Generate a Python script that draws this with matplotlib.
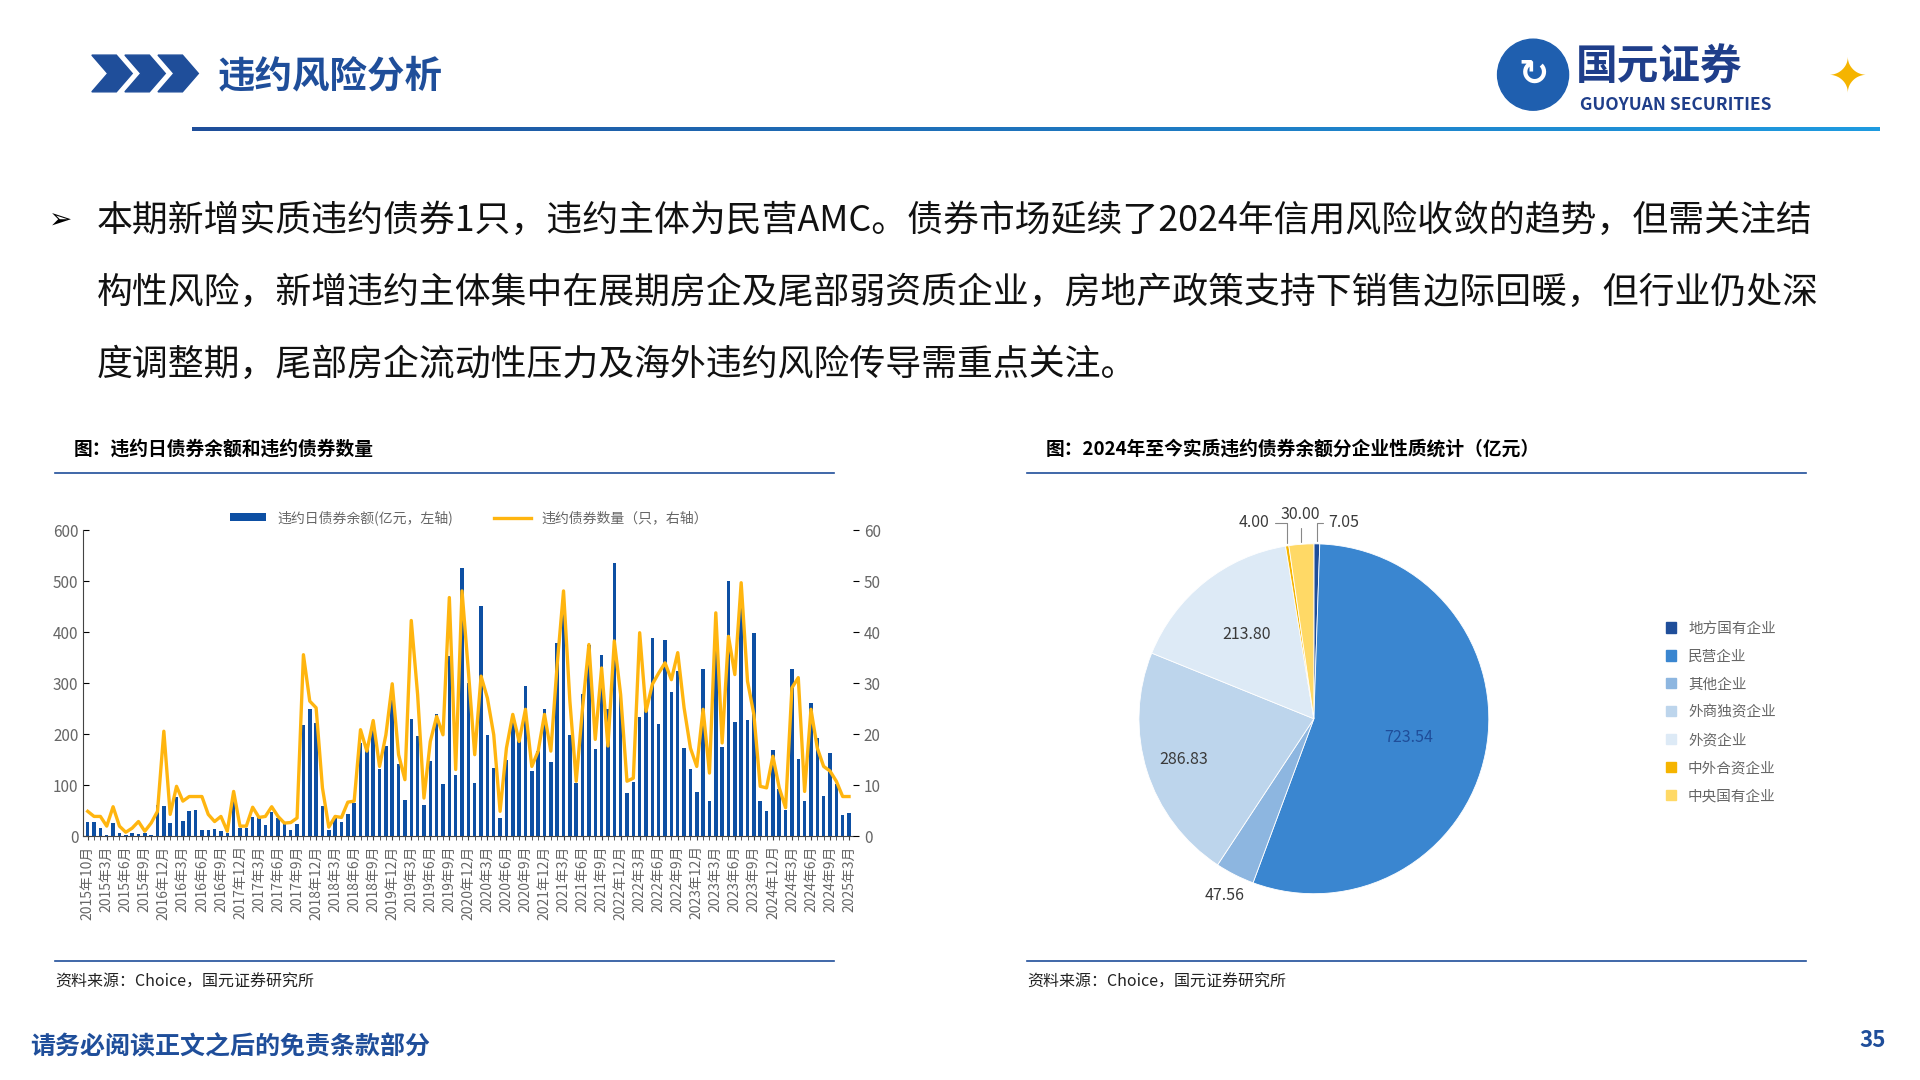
import matplotlib.pyplot as plt
import matplotlib.patches as mpatches
from matplotlib.lines import Line2D
import numpy as np

plt.rcParams['font.family'] = ['Noto Sans CJK SC', 'DejaVu Sans']

# ---- data: monthly defaults, 2015-10 .. 2025-10 (121 months) ----
balance = [28, 28, 16, 3, 27, 7, 3, 7, 5, 7, 3, 62, 59, 26, 77, 31, 49, 52, 13, 13,
           15, 11, 7, 77, 16, 16, 38, 38, 23, 48, 36,
           24, 13, 24, 219, 249, 222, 60, 12, 36, 29, 44, 65, 182, 180, 219, 131, 177, 268,
           142, 72, 229, 196, 61, 147, 240, 103, 353, 120, 525,
           301, 105, 451, 198, 133, 35, 149, 232, 193, 294, 129, 167, 249, 145, 379, 481,
           198, 105, 279, 375, 171, 355, 250, 536, 277, 84, 107, 233, 262, 388,
           220, 384, 283, 324, 173, 131, 87, 328, 69, 386, 175, 500, 224, 447, 228, 399,
           70, 50, 169, 92, 52, 328, 152, 70, 262, 193, 80, 164, 103, 41, 45]
count = [4.9, 3.9, 3.9, 2.0, 5.8, 2.0, 0.8, 1.6, 2.9, 1.0, 2.6, 4.9, 20.6, 4.3, 9.8, 6.9,
         7.8, 7.8, 7.8, 4.3, 2.9, 3.9, 1.0, 8.8, 2.0, 2.0, 5.7, 3.7, 3.9, 5.8, 3.9,
         2.6, 2.7, 3.6, 35.6, 26.5, 25.2, 9.5, 1.8, 3.9, 3.7, 6.7, 6.9, 20.9, 16.7, 22.7,
         13.7, 19.9, 29.9, 16.0, 11.1, 42.3, 27.8, 7.5, 18.6, 23.5, 19.9, 46.8, 13.1, 48.1,
         32.4, 16.0, 31.4, 27.1, 19.9, 4.9, 17.3, 23.9, 18.6, 24.9, 13.7, 16.7, 23.9, 16.7,
         33.7, 48.1, 26.5, 10.8, 25.2, 37.6, 19.0, 33.0, 17.7, 38.3, 27.8, 10.8, 11.4, 39.9,
         24.5, 29.8,
         32.0, 34.0, 30.7, 36.0, 25.2, 17.3, 13.7, 24.9, 12.4, 43.8, 18.3, 39.2, 31.7, 49.7,
         30.4, 23.9, 9.8, 9.5, 15.7, 9.5, 5.6, 29.1, 31.1, 8.8, 24.9, 17.3, 13.7, 12.8,
         10.8, 7.8, 7.8]
tick_labels = ['2015年10月', '2015年3月', '2015年6月', '2015年9月',
               '2016年12月', '2016年3月', '2016年6月', '2016年9月',
               '2017年12月', '2017年3月', '2017年6月', '2017年9月',
               '2018年12月', '2018年3月', '2018年6月', '2018年9月',
               '2019年12月', '2019年3月', '2019年6月', '2019年9月',
               '2020年12月', '2020年3月', '2020年6月', '2020年9月',
               '2021年12月', '2021年3月', '2021年6月', '2021年9月',
               '2022年12月', '2022年3月', '2022年6月', '2022年9月',
               '2023年12月', '2023年3月', '2023年6月', '2023年9月',
               '2024年12月', '2024年3月', '2024年6月', '2024年9月',
               '2025年3月']

# ---- pie data ----
pie_labels = ['地方国有企业', '民营企业', '其他企业', '外商独资企业', '外资企业', '中外合资企业', '中央国有企业']
pie_values = [7.05, 723.54, 47.56, 286.83, 213.80, 4.00, 30.00]
pie_colors = ['#1F4E9A', '#3A86D0', '#8DB6E0', '#BDD5EC', '#DDEAF6', '#F5B400', '#FFD966']

BLUE = '#1F4E9A'
fig = plt.figure(figsize=(19.2, 10.8), dpi=100)
W, H = 1568, 882  # layout measured on the preview


def fx(x):
    return x / W


def fy(y):
    return 1 - y / H


# ---- header ----
for i in range(3):
    fig.patches.append(mpatches.Polygon(
        [[fx(75 + i * 27), fy(45)], [fx(95 + i * 27), fy(45)], [fx(108 + i * 27), fy(60)],
         [fx(95 + i * 27), fy(75)], [fx(75 + i * 27), fy(75)], [fx(88 + i * 27), fy(60)]],
        closed=True, transform=fig.transFigure, color=BLUE))
fig.text(fx(178), fy(62), '违约风险分析', fontsize=27, color=BLUE, weight='bold', va='center')
grad = fig.add_axes([fx(157), fy(107), fx(1535 - 157), 4.5 / 1080])
grad.imshow(np.linspace(0, 1, 256).reshape(1, -1), aspect='auto',
            cmap=plt.matplotlib.colors.LinearSegmentedColormap.from_list('g', [BLUE, '#1E9BE0']))
grad.axis('off')
fig.patches.append(mpatches.Ellipse((fx(1252), fy(61)), fx(58), 58 / H, transform=fig.transFigure,
                                    color='#1F5FAF'))
fig.text(fx(1252), fy(61), '↻', fontsize=26, color='white', ha='center', va='center', weight='bold')
fig.text(fx(1287), fy(55), '国元证券', fontsize=30, color='#1F3E8A', weight='bold', va='center')
fig.text(fx(1290), fy(86), 'GUOYUAN SECURITIES', fontsize=12.5, color='#1F3E8A', weight='bold',
         va='center')
fig.text(fx(1508), fy(65), '✦', fontsize=34, color='#F5B400', ha='center', va='center',
         family=['DejaVu Sans'])

# ---- bullet text ----
lines = ['本期新增实质违约债券1只，违约主体为民营AMC。债券市场延续了2024年信用风险收敛的趋势，但需关注结',
         '构性风险，新增违约主体集中在展期房企及尾部弱资质企业，房地产政策支持下销售边际回暖，但行业仍处深',
         '度调整期，尾部房企流动性压力及海外违约风险传导需重点关注。']
fig.text(fx(40), fy(180), '➢', fontsize=20, va='center', family=['DejaVu Sans'])
for i, t in enumerate(lines):
    fig.text(fx(79), fy(180 + i * 59), t, fontsize=25.8, va='center', color='#111111')

# ---- section titles / rules ----
for x0, x1, title in [(45, 681, '图：违约日债券余额和违约债券数量'),
                      (839, 1475, '图：2024年至今实质违约债券余额分企业性质统计（亿元）')]:
    fig.text(fx(x0 + 15), fy(367), title, fontsize=13.5, weight='bold', va='center')
    fig.add_artist(Line2D([fx(x0), fx(x1)], [fy(386), fy(386)], color=BLUE, lw=1.2))
    fig.add_artist(Line2D([fx(x0), fx(x1)], [fy(785), fy(785)], color=BLUE, lw=1.2))
    fig.text(fx(x0), fy(802), '资料来源：Choice，国元证券研究所', fontsize=11.5, va='center',
             color='#222222')

fig.text(fx(25), fy(855), '请务必阅读正文之后的免责条款部分', fontsize=18, color=BLUE,
         weight='bold', va='center')
fig.text(fx(1540), fy(850), '35', fontsize=16, color=BLUE, weight='bold', va='center', ha='right')

# ---- combo chart ----
ax = fig.add_axes([fx(68), fy(683), fx(697 - 68), (683 - 433) / H])
x = np.arange(len(balance))
ax.bar(x, balance, width=0.55, color='#0D4FA3', label='违约日债券余额(亿元，左轴)')
ax.set_ylim(0, 600)
ax.set_xlim(-0.7, len(balance) - 0.3)
ax.set_yticks(range(0, 601, 100))
ax.set_xticks(range(0, len(balance), 3))
ax.set_xticklabels(tick_labels, rotation=90, fontsize=10, color='#666666')
ax.set_xticks(x, minor=True)
ax.tick_params(axis='x', which='both', length=3, color='#444444')
ax.tick_params(axis='y', labelsize=11, labelcolor='#666666', direction='in', length=4)
for s in ['top', 'right']:
    ax.spines[s].set_visible(False)
ax.spines['left'].set_color('#444444')
ax.spines['bottom'].set_color('#444444')
ax2 = ax.twinx()
ax2.plot(x, count, color='#FFB50F', lw=2.4, solid_joinstyle='round',
         label='违约债券数量（只，右轴）')
ax2.set_ylim(0, 60)
ax2.set_yticks(range(0, 61, 10))
ax2.tick_params(axis='y', labelsize=11, labelcolor='#666666', length=4)
for s in ['top', 'right', 'left', 'bottom']:
    ax2.spines[s].set_visible(False)
h1, l1 = ax.get_legend_handles_labels()
h2, l2 = ax2.get_legend_handles_labels()
fig.legend(h1 + h2, l1 + l2, loc='center', bbox_to_anchor=(fx(383), fy(423)), ncol=2,
           frameon=False, fontsize=10, labelcolor='#666666', handlelength=2.6,
           columnspacing=3, handleheight=0.5)

# ---- pie ----
pax = fig.add_axes([fx(1073 - 150), fy(587 + 150), fx(300), 300 / H])
wedges, _ = pax.pie(pie_values, colors=pie_colors, startangle=90, counterclock=False,
                    wedgeprops=dict(edgecolor='white', linewidth=0.6))
pax.set_aspect('equal')
label_r = [1.12, 0.55, 1.13, 0.78, 0.62, 1.2, 1.18]
total = sum(pie_values)
cum = 0
for i, v in enumerate(pie_values):
    mid = 90 - 360 * (cum + v / 2) / total
    cum += v
    a = np.deg2rad(mid)
    txt = f'{v:.2f}'
    col = '#3A3A3A' if i != 1 else '#1F4E9A'
    if i in (0, 5, 6):
        offs = {0: (0.17, 1.12), 5: (-0.34, 1.12), 6: (-0.08, 1.17)}[i]
        pax.annotate(txt, xy=(np.cos(a) * 1.0, np.sin(a) * 1.0), xytext=offs,
                     ha='center', va='center', fontsize=11.5, color=col,
                     arrowprops=dict(arrowstyle='-', color='#888888', lw=0.8,
                                     connectionstyle='angle,angleA=0,angleB=90'))
    else:
        pax.text(np.cos(a) * label_r[i], np.sin(a) * label_r[i], txt, ha='center', va='center',
                 fontsize=11.5, color=col)
pax.set_xlim(-1.05, 1.05)
pax.set_ylim(-1.05, 1.05)
handles = [mpatches.Patch(color=c) for c in pie_colors]
fig.legend(handles, pie_labels, loc='upper left', bbox_to_anchor=(fx(1350), fy(497)),
           frameon=False, fontsize=10.5, labelcolor='#666666', handlelength=0.7,
           handleheight=0.7, labelspacing=0.95)

fig.savefig('out.png', dpi=100)
